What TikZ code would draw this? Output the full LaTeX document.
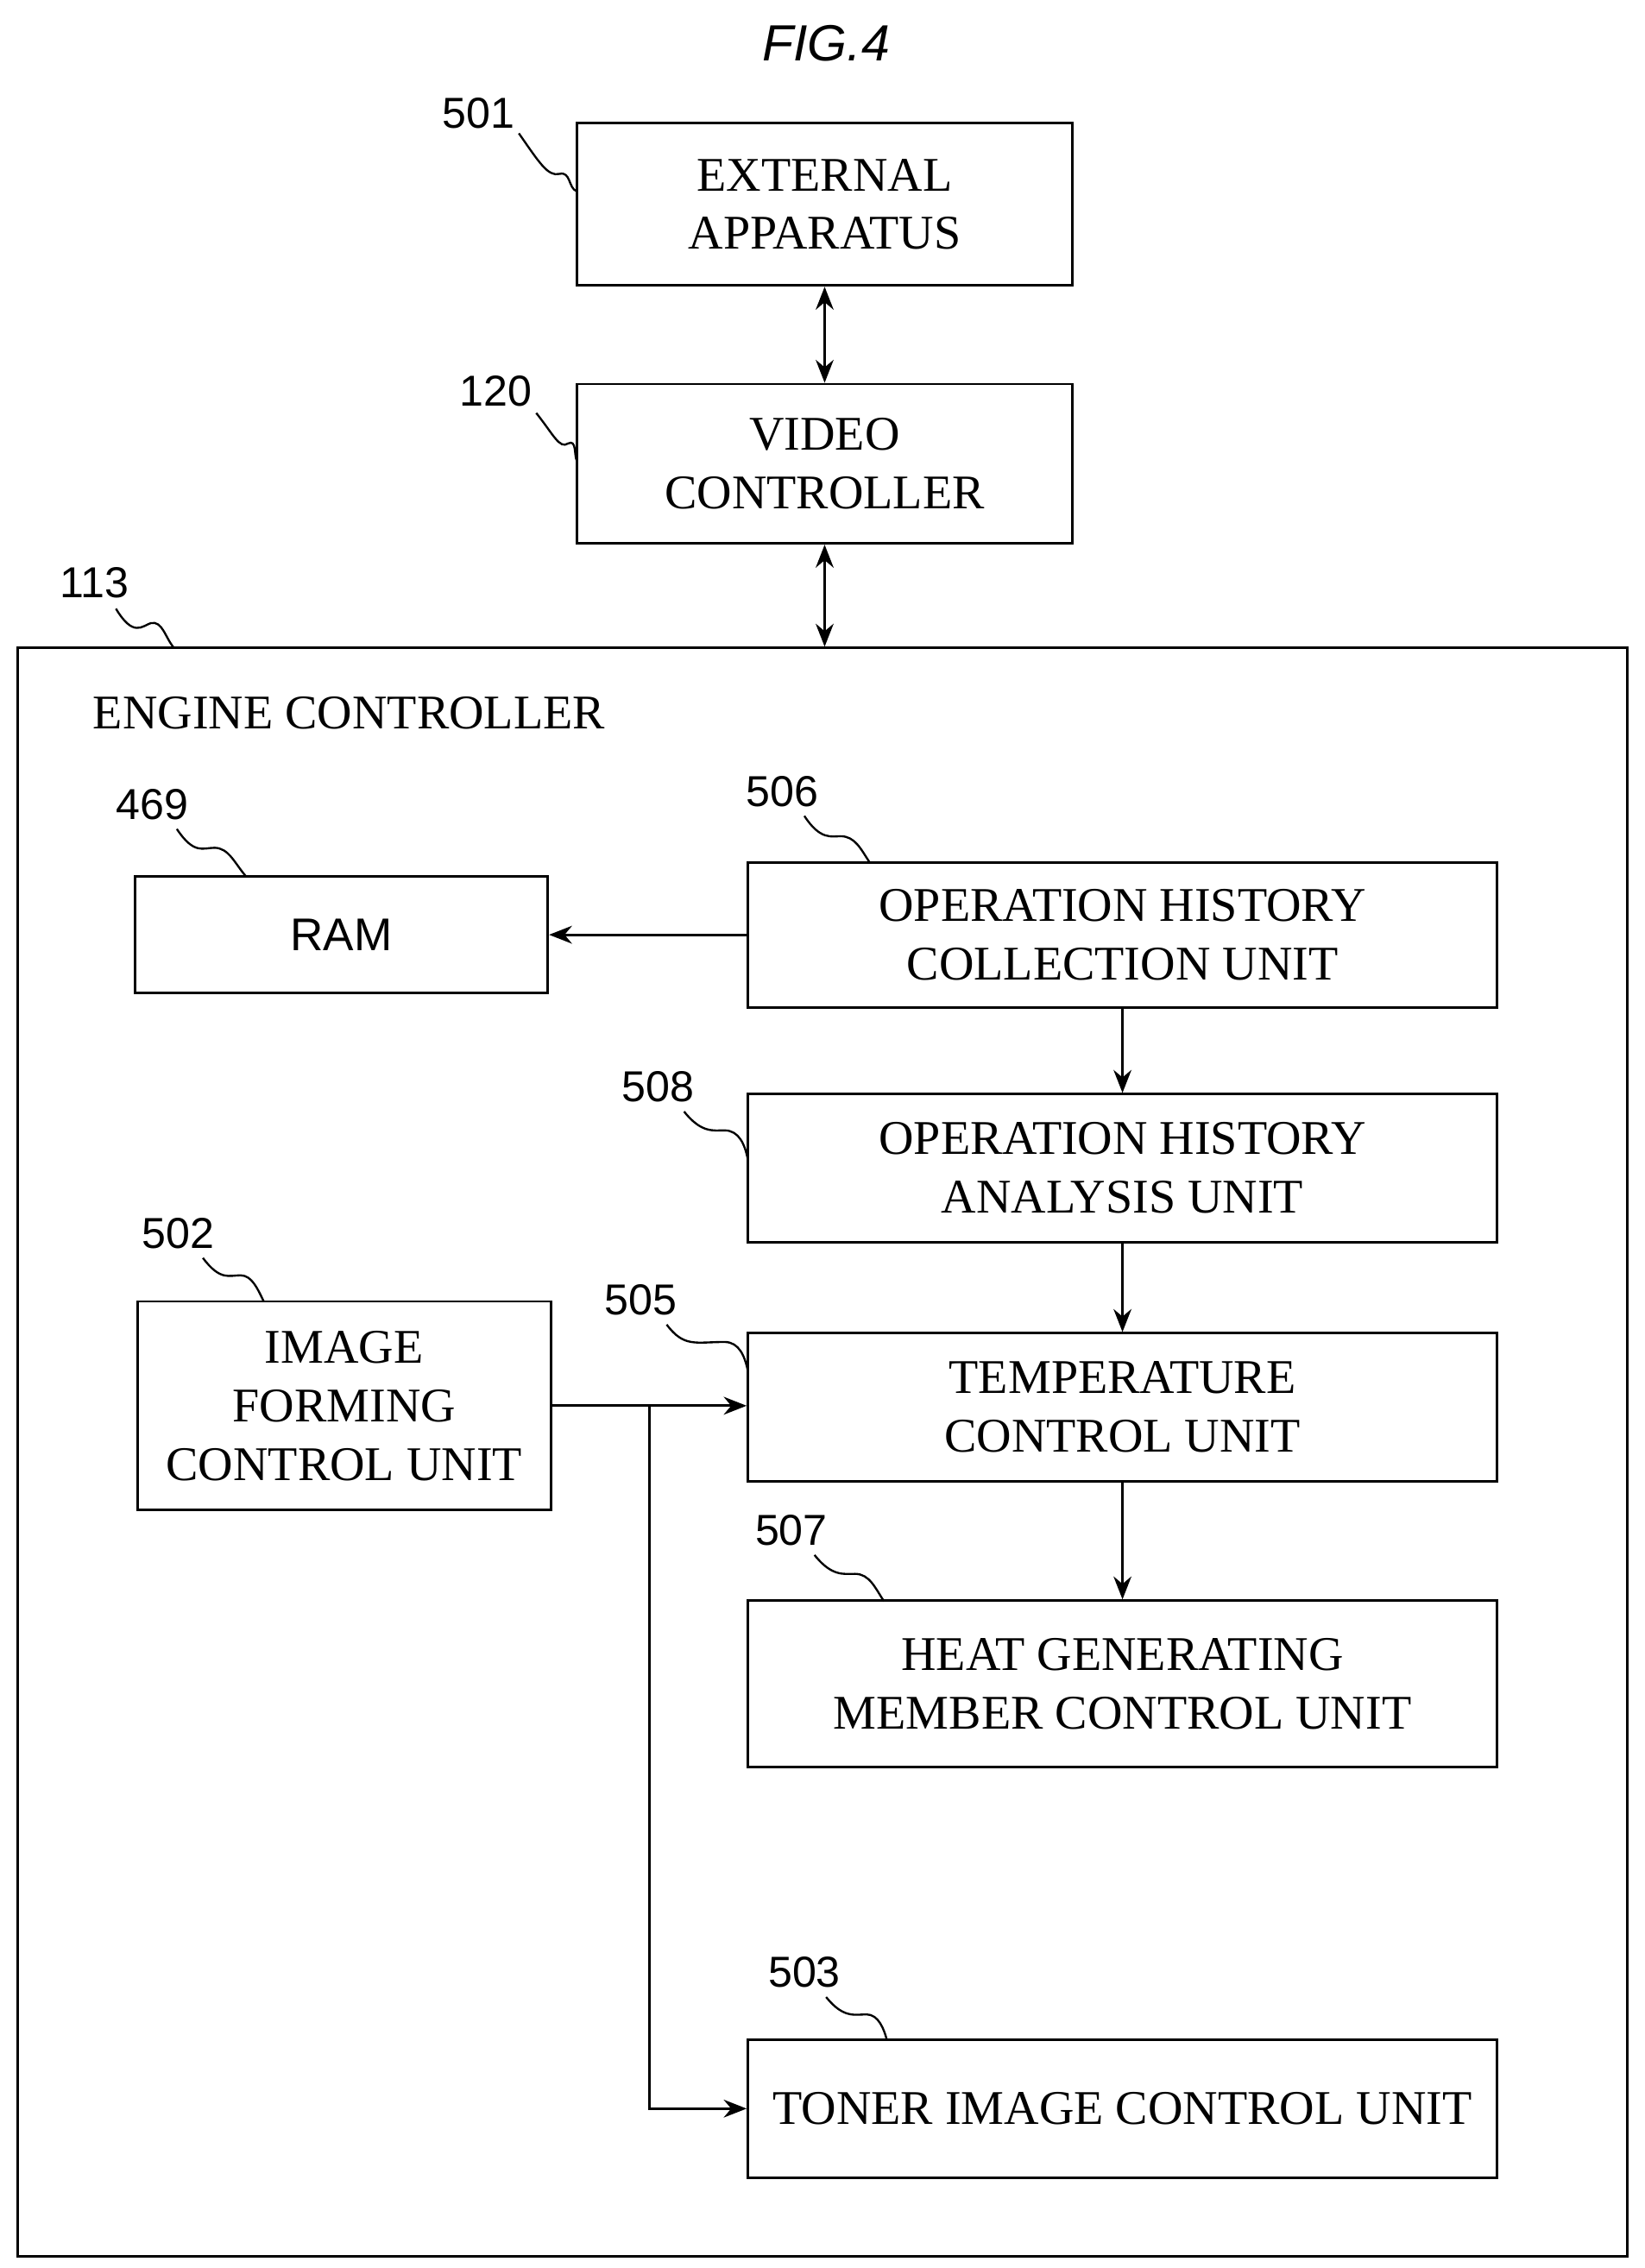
\documentclass[tikz,border=0pt]{standalone}
\usepackage{fontspec}
\setmainfont{Liberation Serif}
\newfontfamily\numfont{Liberation Sans}
\usetikzlibrary{arrows.meta}
\begin{document}
\begin{tikzpicture}[x=0.02cm,y=-0.02cm,
  box/.style={draw,line width=1pt,inner sep=0pt,align=center,font=\fontsize{19}{23}\selectfont},
  num/.style={font=\numfont\fontsize{17}{20}\selectfont},
  arr/.style={line width=1pt,-{Stealth[length=9pt,width=7pt]}},
  darr/.style={line width=1pt,{Stealth[length=9pt,width=7pt]}-{Stealth[length=9pt,width=7pt]}},
  sq/.style={line width=0.8pt}]
\useasboundingbox (0,0) rectangle (1135,1565);
\node[font=\numfont\itshape\fontsize{20}{24}\selectfont] (fig) at (570,30) {FIG.4};
\node[box,minimum width=6.84cm,minimum height=2.24cm] (ext) at (569,141) {EXTERNAL\\APPARATUS};
\node[box,minimum width=6.84cm,minimum height=2.2cm] (vid) at (569,320) {VIDEO\\CONTROLLER};
\node[box,minimum width=22.22cm,minimum height=22.2cm] (eng) at (567.5,1002) {};
\node[anchor=west,font=\fontsize{19}{23}\selectfont] (engl) at (58,492) {ENGINE CONTROLLER};
\draw[darr] (ext.south) -- (vid.north);
\draw[darr] (vid.south) -- (eng.north -| vid.south);
\node[box,minimum width=5.7cm,minimum height=1.6cm,font=\numfont\fontsize{18}{22}\selectfont] (ram) at (235.5,645) {RAM};
\node[box,minimum width=10.34cm,minimum height=2cm] (b506) at (774.5,645) {OPERATION HISTORY\\COLLECTION UNIT};
\node[box,minimum width=10.34cm,minimum height=2.04cm] (b508) at (774.5,806) {OPERATION HISTORY\\ANALYSIS UNIT};
\node[box,minimum width=5.7cm,minimum height=2.88cm] (b502) at (237.5,970) {IMAGE\\FORMING\\CONTROL UNIT};
\node[box,minimum width=10.34cm,minimum height=2.04cm] (b505) at (774.5,971) {TEMPERATURE\\CONTROL UNIT};
\node[box,minimum width=10.34cm,minimum height=2.3cm] (b507) at (774.5,1162) {HEAT GENERATING\\MEMBER CONTROL UNIT};
\node[box,minimum width=10.34cm,minimum height=1.9cm] (b503) at (774.5,1455) {TONER IMAGE CONTROL UNIT};
\draw[arr] (b506.west) -- (ram.east);
\draw[arr] (b506.south) -- (b508.north);
\draw[arr] (b508.south) -- (b505.north);
\draw[arr] (b505.south) -- (b507.north);
\coordinate (br) at (448,970);
\draw[arr] (b502.east) -- (b502.east -| b505.west);
\draw[arr] (br) |- (b503.west);
% labels
\node[num] (n501) at (330,78) {501};
\draw[sq] (358,92) .. controls (372,112) and (378,122) .. (386,120) .. controls (394,118) and (392,130) .. (398,132);
\node[num] (n120) at (342,270) {120};
\draw[sq] (370,285) .. controls (382,300) and (386,310) .. (392,306) .. controls (398,303) and (396,314) .. (398,318);
\node[num] (n113) at (65,402) {113};
\draw[sq] (80,420) .. controls (92,440) and (98,432) .. (104,430) .. controls (112,428) and (114,440) .. (120,447);
\node[num] (n469) at (105,555) {469};
\draw[sq] (122,572) .. controls (134,590) and (140,585) .. (148,585) .. controls (158,585) and (162,596) .. (170,605);
\node[num] (n506) at (540,546) {506};
\draw[sq] (555,563) .. controls (566,580) and (574,577) .. (580,577) .. controls (590,577) and (594,586) .. (600,595);
\node[num] (n508) at (454,750) {508};
\draw[sq] (472,767) .. controls (484,782) and (492,780) .. (500,780) .. controls (510,780) and (514,790) .. (516,800);
\node[num] (n502) at (123,851) {502};
\draw[sq] (140,868) .. controls (152,884) and (158,880) .. (166,880) .. controls (174,880) and (178,890) .. (182,898);
\node[num] (n505) at (442,897) {505};
\draw[sq] (460,914) .. controls (472,930) and (480,926) .. (500,926) .. controls (510,926) and (514,936) .. (516,946);
\node[num] (n507) at (546,1056) {507};
\draw[sq] (562,1073) .. controls (574,1088) and (582,1086) .. (590,1086) .. controls (600,1086) and (604,1096) .. (610,1105);
\node[num] (n503) at (555,1361) {503};
\draw[sq] (570,1378) .. controls (582,1393) and (590,1390) .. (598,1390) .. controls (606,1390) and (610,1400) .. (612,1408);
\end{tikzpicture}
\end{document}
